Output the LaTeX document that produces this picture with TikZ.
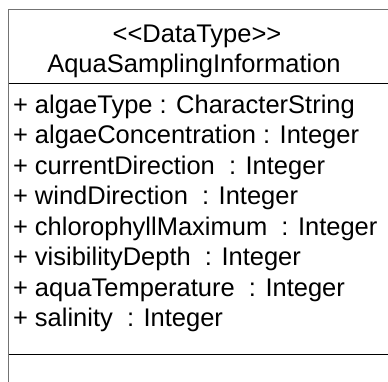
\documentclass[tikz,border=0pt]{standalone}
\usepackage{fontspec}
\setmainfont[Ligatures=NoCommon]{Liberation Sans}
\begin{document}
\begin{tikzpicture}[x=1pt,y=-1pt,
  txt/.style={inner sep=0pt,outer sep=0pt,font=\fontsize{25.5}{30}\selectfont},
  attr/.style={txt,anchor=base west},
  ttl/.style={txt,anchor=base},
  frame/.style={draw=black!55,line width=1pt},
  sep/.style={draw=black,line width=1pt}]
\useasboundingbox (0,0) rectangle (388,381);
\clip (0,0) rectangle (388,381);
\draw[frame] (400,9) -- (8.5,9) -- (8.5,400);
\draw[sep] (8.5,83) -- (400,83);
\draw[sep] (8.5,354) -- (400,354);
\node[ttl] (st) at (197,42) {{<}{<}DataType{>}{>}};
\node[ttl] (nm) at (194,72) {AquaSamplingInformation};
\node[attr] (a1) at (13,113) {+ algaeType : CharacterString};
\node[attr] (a2) at (13,143.5) {+ algaeConcentration : Integer};
\node[attr] (a3) at (13,174) {+ currentDirection~ : Integer};
\node[attr] (a4) at (13,204.5) {+ windDirection~ : Integer};
\node[attr] (a5) at (13,235) {+ chlorophyllMaximum~ : Integer};
\node[attr] (a6) at (13,265.5) {+ visibilityDepth~ : Integer};
\node[attr] (a7) at (13,296) {+ aquaTemperature~ : Integer};
\node[attr] (a8) at (13,326.5) {+ salinity~ : Integer};
\end{tikzpicture}
\end{document}
